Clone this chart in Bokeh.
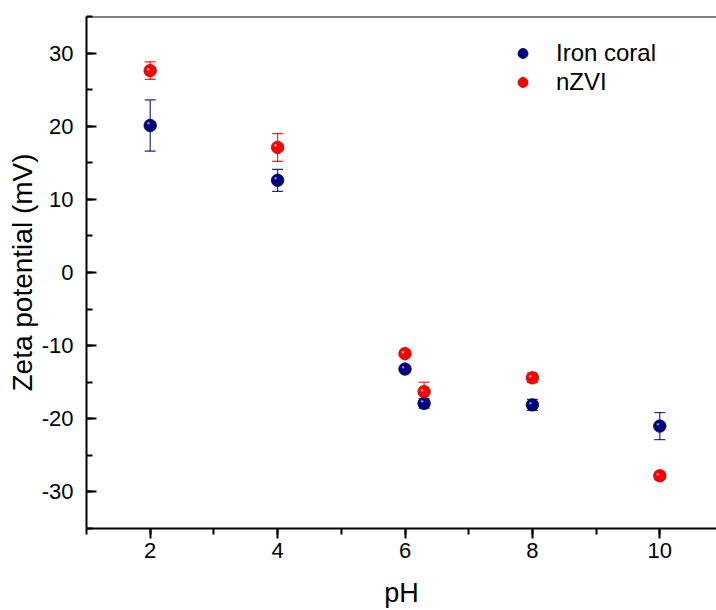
from bokeh.plotting import figure
from bokeh.models import (ColumnDataSource, Whisker, TeeHead, SingleIntervalTicker,
                          Legend, LegendItem, Span, Range1d, PrintfTickFormatter)
from bokeh.embed import file_html
from bokeh.resources import INLINE
from bokeh.core.properties import value

# ---- data ----
ph_iron = [2, 4, 6, 6.3, 8, 10]
zeta_iron = [20.1, 12.6, -13.2, -17.9, -18.1, -21.0]
err_iron = [3.5, 1.5, 0.3, 0.65, 0.75, 1.85]

ph_nzvi = [2, 4, 6, 6.3, 8, 10]
zeta_nzvi = [27.6, 17.1, -11.1, -16.3, -14.4, -27.8]
err_nzvi = [1.2, 1.9, 0.4, 1.3, 0.65, 0.5]

series_names = ["Iron coral", "nZVI"]
x_label = "pH"
y_label = "Zeta potential (mV)"

FONT = "Liberation Sans"
BLUE = "#000080"
RED = "#FF0000"


def make_source(xs, ys, es):
    return ColumnDataSource(dict(
        x=xs, y=ys,
        upper=[a + b for a, b in zip(ys, es)],
        lower=[a - b for a, b in zip(ys, es)],
    ))


src_iron = make_source(ph_iron, zeta_iron, err_iron)
src_nzvi = make_source(ph_nzvi, zeta_nzvi, err_nzvi)

p = figure(width=716, height=610,
           x_range=Range1d(1, 10.89), y_range=Range1d(-35, 35),
           output_backend="svg", toolbar_location=None,
           min_border_left=86, min_border_right=0,
           min_border_top=16, min_border_bottom=82)

p.outline_line_color = None
p.xgrid.visible = False
p.ygrid.visible = False
p.background_fill_color = "white"
p.border_fill_color = "white"

# axes
for ax in (p.xaxis[0], p.yaxis[0]):
    ax.axis_line_width = 2
    ax.axis_line_color = "black"
    ax.major_tick_line_width = 2
    ax.minor_tick_line_width = 2
    ax.major_tick_line_color = "black"
    ax.minor_tick_line_color = "black"
    ax.major_label_text_font = FONT
    ax.major_label_text_font_size = "22px"
    ax.major_label_text_color = "black"
    ax.axis_label_text_font = FONT
    ax.axis_label_text_font_size = "27px"
    ax.axis_label_text_font_style = "normal"
    ax.axis_label_text_color = "black"
    ax.formatter = PrintfTickFormatter(format="%d")

p.yaxis.axis_label_text_font_size = "28px"

p.xaxis.ticker = SingleIntervalTicker(interval=2, num_minor_ticks=2)
p.yaxis.ticker = SingleIntervalTicker(interval=10, num_minor_ticks=2)

p.xaxis.major_tick_in = 0
p.xaxis.major_tick_out = 10
p.xaxis.minor_tick_in = 0
p.xaxis.minor_tick_out = 6
p.xaxis.major_label_standoff = 4
p.xaxis.axis_label_standoff = 17
p.xaxis.axis_label = x_label

p.yaxis.major_tick_in = 10
p.yaxis.major_tick_out = 0
p.yaxis.minor_tick_in = 6
p.yaxis.minor_tick_out = 0
p.yaxis.major_label_standoff = 13
p.yaxis.axis_label_standoff = 1
p.yaxis.axis_label = y_label

# top frame line
p.add_layout(Span(location=35, dimension="width", line_color="black", line_width=2))

# error bars
for src, col in ((src_iron, BLUE), (src_nzvi, RED)):
    w = Whisker(base="x", upper="upper", lower="lower", source=src,
                line_color=col, line_width=1.2, line_alpha=0.85,
                upper_head=TeeHead(size=11, line_color=col, line_width=1.2, line_alpha=0.85),
                lower_head=TeeHead(size=11, line_color=col, line_width=1.2, line_alpha=0.85))
    p.add_layout(w)

r_iron = p.scatter("x", "y", source=src_iron, size=12.5, fill_color=BLUE,
                   line_color="#00004a", line_width=0.8)
r_nzvi = p.scatter("x", "y", source=src_nzvi, size=12.5, fill_color=RED,
                   line_color="#c00000", line_width=0.8)

# sphere highlights
for src, hl in ((src_iron, "#9a9ad8"), (src_nzvi, "#ffb0b0")):
    p.text("x", "y", source=src, text=value("\u25cf"), x_offset=-2, y_offset=-2,
           text_font_size="6px", text_align="center", text_baseline="middle",
           text_color=hl, text_alpha=0.9)

legend = Legend(items=[LegendItem(label=series_names[0], renderers=[r_iron]),
                       LegendItem(label=series_names[1], renderers=[r_nzvi])],
                location=(424, 432))
legend.glyph_width = 25
legend.glyph_height = 28
legend.label_height = 28
legend.spacing = 1
legend.padding = 0
legend.margin = 0
legend.label_standoff = 21
legend.border_line_color = None
legend.background_fill_alpha = 0
legend.label_text_font = FONT
legend.label_text_font_size = "24px"
legend.label_text_color = "black"
p.add_layout(legend)

open("out.html", "w").write(file_html(p, INLINE))
